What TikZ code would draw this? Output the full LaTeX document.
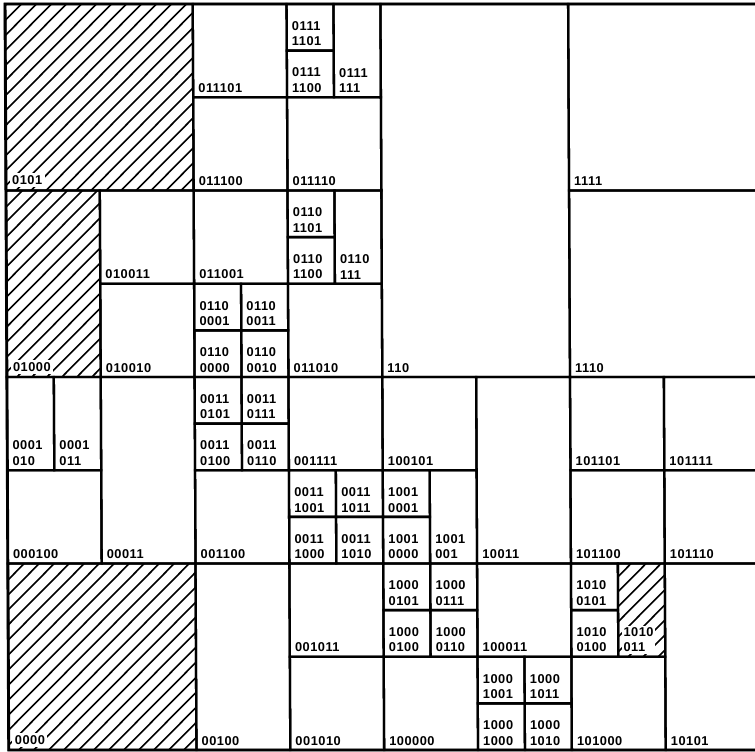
\documentclass[tikz,border=0pt]{standalone}
\usepackage{fontspec}
\newfontfamily\lblfont[LetterSpace=4]{Liberation Sans}
\tikzset{
  cellline/.style={line width=2.3pt},
  frameline/.style={line width=2.9pt},
  hatchline/.style={line width=1.6pt},
  lbl/.style={anchor=south west, inner sep=1.5pt, align=left,
    font=\lblfont\bfseries\fontsize{12.8}{15.5}\selectfont},
  hlbl/.style={lbl, fill=white, inner sep=2.5pt},
}
% c1 r1 c2 r2 name text
\newcommand{\regionbox}[6]{%
  \draw[cellline] (#1,#2) rectangle (#3,#4);
  \node[lbl] (#5) at ([xshift=3.5pt,yshift=3pt]#1,#4) {#6};
}
\newcommand{\hatchregion}[4]{%
  \begin{scope}
    \clip (#1,#2) rectangle (#3,#4);
    \foreach \k in {0,...,28}
      \draw[hatchline] ([xshift=\k*15pt-215pt]#1,#4) -- ++(320pt,320pt);
  \end{scope}
}
\begin{document}
\begin{tikzpicture}
\useasboundingbox (0,0) rectangle (755pt,-752pt);
\begin{scope}[cm={1,0,-0.005,1,(0pt,0pt)}]
\begin{scope}[shift={(5pt,-4pt)}, x=93.85pt, y=-93.25pt]
% hatched regions
\hatchregion{0}{0}{2}{2}
\hatchregion{0}{2}{1}{4}
\hatchregion{0}{6}{2}{8}
\hatchregion{6.5}{6}{7}{7}
% rows 0-2
\draw[cellline] (0,0) rectangle (2,2);
\node[hlbl] (r0101) at ([xshift=3.5pt,yshift=3pt]0,2) {0101};
\regionbox{2}{0}{3}{1}{r011101}{011101}
\regionbox{3}{0}{3.5}{0.5}{r0111x1101}{0111\\1101}
\regionbox{3}{0.5}{3.5}{1}{r0111x1100}{0111\\1100}
\regionbox{3.5}{0}{4}{1}{r0111x111}{0111\\111}
\regionbox{2}{1}{3}{2}{r011100}{011100}
\regionbox{3}{1}{4}{2}{r011110}{011110}
\regionbox{4}{0}{6}{4}{r110}{110}
\regionbox{6}{0}{8.1}{2}{r1111}{1111}
\regionbox{6}{2}{8.1}{4}{r1110}{1110}
% rows 2-4
\draw[cellline] (0,2) rectangle (1,4);
\node[hlbl] (r01000) at ([xshift=3.5pt,yshift=3pt]0,4) {01000};
\regionbox{1}{2}{2}{3}{r010011}{010011}
\regionbox{1}{3}{2}{4}{r010010}{010010}
\regionbox{2}{2}{3}{3}{r011001}{011001}
\regionbox{3}{2}{3.5}{2.5}{r0110x1101}{0110\\1101}
\regionbox{3}{2.5}{3.5}{3}{r0110x1100}{0110\\1100}
\regionbox{3.5}{2}{4}{3}{r0110x111}{0110\\111}
\regionbox{2}{3}{2.5}{3.5}{r0110x0001}{0110\\0001}
\regionbox{2.5}{3}{3}{3.5}{r0110x0011}{0110\\0011}
\regionbox{2}{3.5}{2.5}{4}{r0110x0000}{0110\\0000}
\regionbox{2.5}{3.5}{3}{4}{r0110x0010}{0110\\0010}
\regionbox{3}{3}{4}{4}{r011010}{011010}
% rows 4-6
\regionbox{0}{4}{0.5}{5}{r0001x010}{0001\\010}
\regionbox{0.5}{4}{1}{5}{r0001x011}{0001\\011}
\regionbox{0}{5}{1}{6}{r000100}{000100}
\regionbox{1}{4}{2}{6}{r00011}{00011}
\regionbox{2}{4}{2.5}{4.5}{r0011x0101}{0011\\0101}
\regionbox{2.5}{4}{3}{4.5}{r0011x0111}{0011\\0111}
\regionbox{2}{4.5}{2.5}{5}{r0011x0100}{0011\\0100}
\regionbox{2.5}{4.5}{3}{5}{r0011x0110}{0011\\0110}
\regionbox{3}{4}{4}{5}{r001111}{001111}
\regionbox{2}{5}{3}{6}{r001100}{001100}
\regionbox{3}{5}{3.5}{5.5}{r0011x1001}{0011\\1001}
\regionbox{3.5}{5}{4}{5.5}{r0011x1011}{0011\\1011}
\regionbox{3}{5.5}{3.5}{6}{r0011x1000}{0011\\1000}
\regionbox{3.5}{5.5}{4}{6}{r0011x1010}{0011\\1010}
\regionbox{4}{4}{5}{5}{r100101}{100101}
\regionbox{4}{5}{4.5}{5.5}{r1001x0001}{1001\\0001}
\regionbox{4}{5.5}{4.5}{6}{r1001x0000}{1001\\0000}
\regionbox{4.5}{5}{5}{6}{r1001x001}{1001\\001}
\regionbox{5}{4}{6}{6}{r10011}{10011}
\regionbox{6}{4}{7}{5}{r101101}{101101}
\regionbox{7}{4}{8.1}{5}{r101111}{101111}
\regionbox{6}{5}{7}{6}{r101100}{101100}
\regionbox{7}{5}{8.1}{6}{r101110}{101110}
% rows 6-8
\draw[cellline] (0,6) rectangle (2,8);
\node[hlbl] (r0000) at ([xshift=3.5pt,yshift=3pt]0,8) {0000};
\regionbox{2}{6}{3}{8}{r00100}{00100}
\regionbox{3}{6}{4}{7}{r001011}{001011}
\regionbox{3}{7}{4}{8}{r001010}{001010}
\regionbox{4}{6}{4.5}{6.5}{r1000x0101}{1000\\0101}
\regionbox{4.5}{6}{5}{6.5}{r1000x0111}{1000\\0111}
\regionbox{4}{6.5}{4.5}{7}{r1000x0100}{1000\\0100}
\regionbox{4.5}{6.5}{5}{7}{r1000x0110}{1000\\0110}
\regionbox{5}{6}{6}{7}{r100011}{100011}
\regionbox{4}{7}{5}{8}{r100000}{100000}
\regionbox{5}{7}{5.5}{7.5}{r1000x1001}{1000\\1001}
\regionbox{5.5}{7}{6}{7.5}{r1000x1011}{1000\\1011}
\regionbox{5}{7.5}{5.5}{8}{r1000x1000}{1000\\1000}
\regionbox{5.5}{7.5}{6}{8}{r1000x1010}{1000\\1010}
\regionbox{6}{6}{6.5}{6.5}{r1010x0101}{1010\\0101}
\regionbox{6}{6.5}{6.5}{7}{r1010x0100}{1010\\0100}
\draw[cellline] (6.5,6) rectangle (7,7);
\node[hlbl, inner sep=1.5pt] (r1010x011) at ([xshift=3.5pt,yshift=3pt]6.5,7) {1010\\011};
\regionbox{6}{7}{7}{8}{r101000}{101000}
\regionbox{7}{6}{8.1}{8}{r10101}{10101}
% outer frame (left, top, bottom)
\draw[frameline] (8.1,0) -- (0,0) -- (0,8) -- (8.1,8);
\end{scope}
\end{scope}
\end{tikzpicture}
\end{document}
